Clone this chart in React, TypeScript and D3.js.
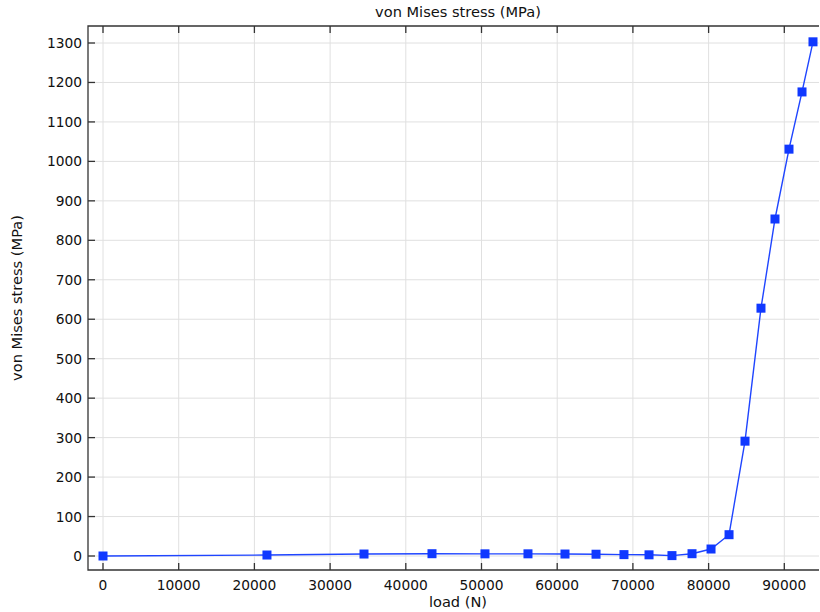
import React, { useRef, useEffect } from 'react';
import * as d3 from 'd3';

const loads = [0, 21660, 34480, 43460, 50460, 56140, 61030, 65130, 68820, 72130, 75160, 77810, 80320, 82700, 84810, 86920, 88770, 90620, 92340, 93790];
const stress = [0, 2.5, 5, 5.8, 5.5, 5.5, 5, 4.5, 3.5, 3, 1, 5.8, 17.7, 54, 291, 628, 854, 1031, 1176, 1303];
const xTicks = [0, 10000, 20000, 30000, 40000, 50000, 60000, 70000, 80000, 90000];
const yTicks = [0, 100, 200, 300, 400, 500, 600, 700, 800, 900, 1000, 1100, 1200, 1300];

const W = 820;
const H = 612;

const App = () => {
  const svgRef = useRef<SVGSVGElement>(null);

  useEffect(() => {
    const svg = d3.select(svgRef.current);
    svg.selectAll('*').remove();

    const left = 88, right = 819, top = 26, bottom = 570;
    const x = d3.scaleLinear().domain([0, 10000]).range([103, 178.7]);
    const y = d3.scaleLinear().domain([0, 1300]).range([556, 43]);

    const font = 'DejaVu Sans, sans-serif';

    // grid
    svg.append('g').selectAll('line').data(xTicks).enter().append('line')
      .attr('x1', d => x(d)).attr('x2', d => x(d))
      .attr('y1', top).attr('y2', bottom)
      .attr('stroke', '#e0e0e0').attr('stroke-width', 1);
    svg.append('g').selectAll('line').data(yTicks).enter().append('line')
      .attr('x1', left).attr('x2', right)
      .attr('y1', d => y(d)).attr('y2', d => y(d))
      .attr('stroke', '#e0e0e0').attr('stroke-width', 1);

    // frame
    svg.append('path')
      .attr('d', `M${right},${top}H${left}V${bottom}H${right}`)
      .attr('fill', 'none').attr('stroke', '#333').attr('stroke-width', 1.3);

    // ticks
    const tk = svg.append('g').attr('stroke', '#333').attr('stroke-width', 1.3);
    xTicks.forEach(t => {
      tk.append('line').attr('x1', x(t)).attr('x2', x(t)).attr('y1', bottom).attr('y2', bottom - 7);
      tk.append('line').attr('x1', x(t)).attr('x2', x(t)).attr('y1', top).attr('y2', top + 7);
    });
    yTicks.forEach(t => {
      tk.append('line').attr('x1', left).attr('x2', left + 7).attr('y1', y(t)).attr('y2', y(t));
    });

    // tick labels
    svg.append('g').selectAll('text').data(xTicks).enter().append('text')
      .attr('x', d => x(d)).attr('y', bottom + 20)
      .attr('text-anchor', 'middle')
      .attr('font-family', font).attr('font-size', 13.8).attr('fill', '#111')
      .text(d => d);
    svg.append('g').selectAll('text').data(yTicks).enter().append('text')
      .attr('x', left - 6).attr('y', d => y(d)).attr('dy', '0.36em')
      .attr('text-anchor', 'end')
      .attr('font-family', font).attr('font-size', 13.8).attr('fill', '#111')
      .text(d => d);

    // titles
    svg.append('text').attr('x', 458).attr('y', 17)
      .attr('text-anchor', 'middle').attr('font-family', font).attr('font-size', 14.6).attr('fill', '#111')
      .text('von Mises stress (MPa)');
    svg.append('text').attr('x', 458).attr('y', 607)
      .attr('text-anchor', 'middle').attr('font-family', font).attr('font-size', 14.6).attr('fill', '#111')
      .text('load (N)');
    svg.append('text')
      .attr('transform', `translate(22, ${(top + bottom) / 2}) rotate(-90)`)
      .attr('text-anchor', 'middle').attr('font-family', font).attr('font-size', 14.6).attr('fill', '#111')
      .text('von Mises stress (MPa)');

    const pts = loads.map((l, i) => [l, stress[i]] as [number, number]);
    const line = d3.line<[number, number]>().x(d => x(d[0])).y(d => y(d[1]));
    svg.append('path').datum(pts)
      .attr('d', line)
      .attr('fill', 'none').attr('stroke', '#1f45ff').attr('stroke-width', 1.4);

    const s = 9;
    svg.append('g').selectAll('rect').data(pts).enter().append('rect')
      .attr('x', d => x(d[0]) - s / 2).attr('y', d => y(d[1]) - s / 2)
      .attr('width', s).attr('height', s)
      .attr('fill', '#1038ff');
  }, []);

  return (
    <svg ref={svgRef} width={W} height={H} style={{ position: 'absolute', left: 0, top: 0, background: 'white' }} />
  );
};

export default App;
